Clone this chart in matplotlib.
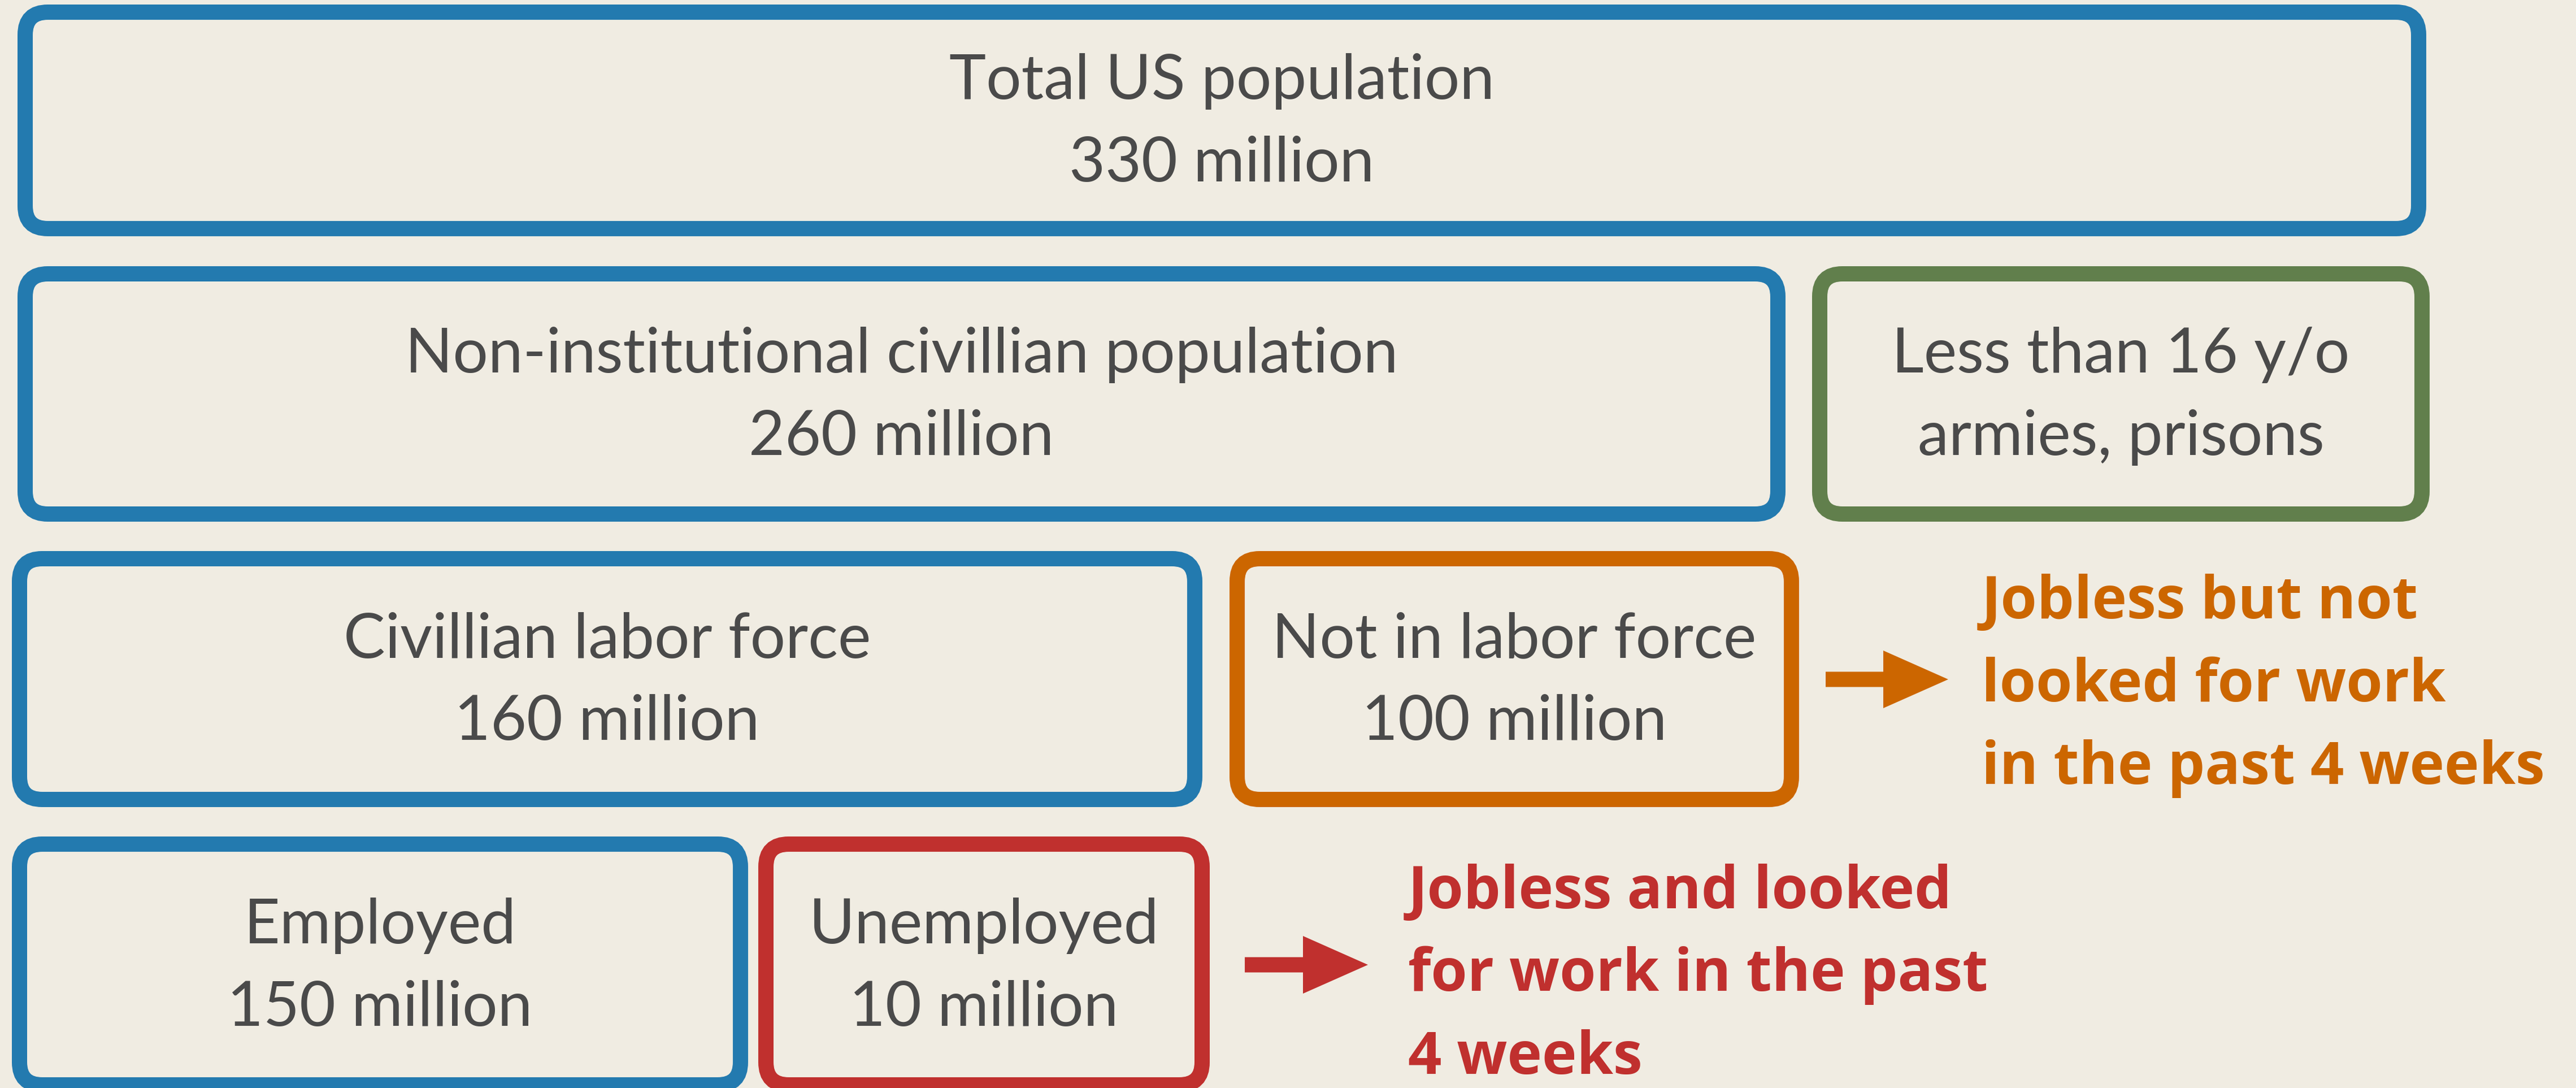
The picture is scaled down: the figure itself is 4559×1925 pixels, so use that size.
import matplotlib.pyplot as plt
from matplotlib.patches import FancyBboxPatch, FancyArrow

# Données
titles = ["Total US population", "Non-institutional civillian population",
          "Less than 16 y/o", "Civillian labor force", "Not in labor force",
          "Employed", "Unemployed"]
second_lines = ["330 million", "260 million", "armies, prisons", "160 million",
                "100 million", "150 million", "10 million"]
box_colors = ["#237aaf", "#237aaf", "#617f4c", "#237aaf", "#cc6600",
              "#237aaf", "#c0302e"]

notes = [["Jobless but not", "looked for work", "in the past 4 weeks"],
         ["Jobless and looked", "for work in the past", "4 weeks"]]
note_colors = ["#cc6600", "#c0302e"]

# Mise en page (pixels de l'image, bords extérieurs des cadres)
box_layout = [(31, 4294, 8, 418), (31, 3160, 471, 923), (3207, 4300, 471, 923),
              (21, 2128, 975, 1428), (2176, 3184, 975, 1428),
              (21, 1324, 1480, 1933), (1342, 2141, 1480, 1933)]
note_layout = [(3507, 1094, 3231, 3448, 1202), (2492, 1607, 2203, 2421, 1707)]

W, H, DPI = 4559, 1925, 300
bg = "#f0ece2"
gray = "#4a4a4a"
lw_px = 27
plt.rcParams['font.family'] = ['Lato', 'DejaVu Sans']

fig = plt.figure(figsize=(W / DPI, H / DPI), dpi=DPI, facecolor=bg)
ax = fig.add_axes([0, 0, 1, 1])
ax.set_xlim(0, W)
ax.set_ylim(H, 0)
ax.set_facecolor(bg)
ax.axis('off')

half = lw_px / 2
for (x0, x1, y0, y1), t1, t2, c in zip(box_layout, titles, second_lines, box_colors):
    box = FancyBboxPatch((x0 + half, y0 + half), x1 - x0 - lw_px, y1 - y0 - lw_px,
                         boxstyle="round,pad=0,rounding_size=40",
                         fc="none", ec=c, lw=lw_px * 72 / DPI)
    ax.add_patch(box)
    cx = (x0 + x1) / 2
    cy = (y0 + y1) / 2
    ax.text(cx, cy - 38, t1, ha='center', va='baseline', fontsize=26.5, color=gray)
    ax.text(cx, cy + 108, t2, ha='center', va='baseline', fontsize=26.5, color=gray)

for lines, c, (tx, ty, ax0, ax1, ay) in zip(notes, note_colors, note_layout):
    for i, line in enumerate(lines):
        ax.text(tx, ty + i * 146.5, line, ha='left', va='baseline', fontsize=25,
                fontweight='bold', color=c, family=['Open Sans', 'DejaVu Sans'])
    ax.add_patch(FancyArrow(ax0, ay, ax1 - ax0, 0, width=27, head_width=102,
                            head_length=115, length_includes_head=True,
                            fc=c, ec='none'))

fig.savefig("out.png", dpi=DPI, facecolor=bg)
